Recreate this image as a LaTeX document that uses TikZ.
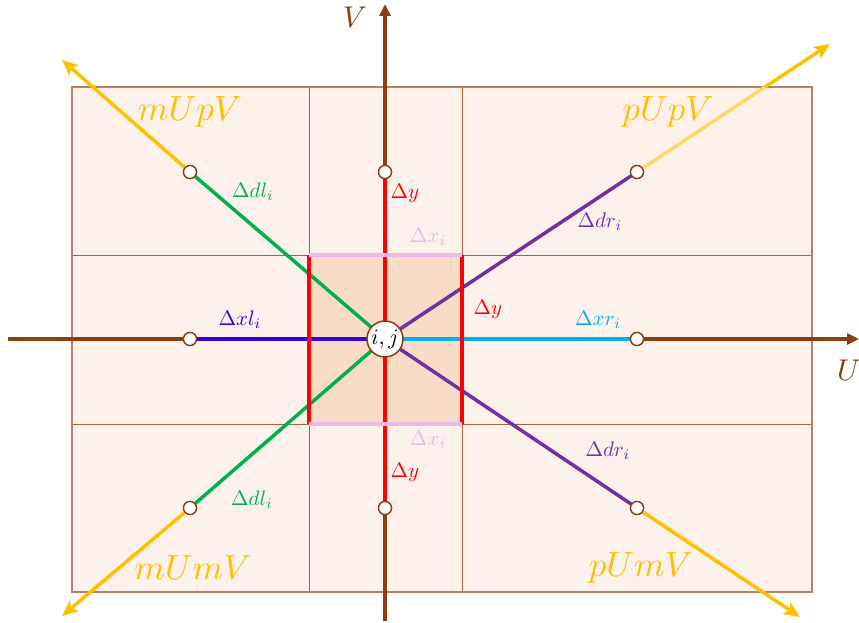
\documentclass[tikz,border=0pt]{standalone}
\usepackage{graphicx}
\usetikzlibrary{arrows.meta,calc}
\definecolor{peach}{HTML}{FDF1EC}
\definecolor{peachd}{HTML}{F9DCC8}
\definecolor{gridb}{HTML}{A8623A}
\definecolor{axisb}{HTML}{8B3E0F}
\definecolor{yel}{HTML}{FFC000}
\definecolor{yell}{HTML}{FFD966}
\definecolor{grn}{HTML}{00B050}
\definecolor{prp}{HTML}{7030A0}
\definecolor{blu}{HTML}{3300E0}
\definecolor{lblu}{HTML}{00B0F0}
\definecolor{pnk}{HTML}{F0B8E8}
\newcommand{\lb}[1]{\scalebox{2.1}{$#1$}}
\newcommand{\bg}[1]{\scalebox{3.5}{$#1$}}
\tikzset{
  gridline/.style={draw=gridb, line width=1pt},
  axisline/.style={draw=axisb, line width=3.5pt, -{Triangle[length=12pt,width=11pt]}},
  seg/.style={line width=3.5pt},
  yarrow/.style={draw=yel, line width=3.5pt, -{Stealth[length=16pt,width=14pt,inset=4pt]}},
  pt/.style={circle, draw=axisb, fill=white, line width=1.3pt, minimum size=13pt, inner sep=0pt},
  lbl/.style={inner sep=0pt},
  big/.style={text=yel, inner sep=0pt},
  axlbl/.style={text=axisb, inner sep=0pt},
}
\begin{document}
\begin{tikzpicture}[x=1pt,y=-1pt]
\useasboundingbox (0,0) rectangle (859,623);
% grid
\fill[peach] (72,87) rectangle (812,592);
\fill[peachd] (309,255) rectangle (462,424);
\draw[gridline] (309,87) -- (309,592) (462,87) -- (462,592) (72,255) -- (812,255) (72,424) -- (812,424);
\draw[draw=gridb!80, line width=1.5pt] (72,87) rectangle (812,592);
% coordinates
\coordinate (C) at (385,339);
\coordinate (axL) at (8,339);
\coordinate (axR) at (859,339);
\coordinate (axB) at (385,621);
\coordinate (axT) at (385,4);
\coordinate (tlA) at (62,60);
\coordinate (blA) at (62,616);
\coordinate (trA) at (830,44);
\coordinate (trE) at (765,87);
\coordinate (brA) at (800,617);
% axes
\draw[axisline] (axL) -- (axR);
\draw[axisline] (axB) -- (axT);
% points
\node[pt] (tl) at (190,172) {};
\node[pt] (tm) at (385,172) {};
\node[pt] (tr) at (637,172) {};
\node[pt] (ml) at (190,339) {};
\node[pt] (mr) at (637,339) {};
\node[pt] (bl) at (190,508) {};
\node[pt] (bm) at (385,508) {};
\node[pt] (br) at (637,508) {};
% yellow arrows
\draw[yarrow] (tl.center) -- (tlA);
\draw[yarrow] (bl.center) -- (blA);
\draw[yarrow] (trE) -- (trA);
\draw[draw=yell, seg] (tr.center) -- (trE);
\draw[yarrow] (br.center) -- (brA);
% colored segments
\draw[grn, seg] (tl.center) -- (C);
\draw[grn, seg] (bl.center) -- (C);
\draw[prp, seg] (tr.center) -- (C);
\draw[prp, seg] (br.center) -- (C);
\draw[blu, seg] (ml.center) -- (C);
\draw[lblu, seg] (mr.center) -- (C);
\draw[red, seg] (tm.center) -- (bm.center);
\draw[red, seg] (309,255) -- (309,424);
\draw[red, seg] (462,255) -- (462,424);
\draw[pnk, seg] (309,255) -- (462,255);
\draw[pnk, seg] (309,424) -- (462,424);
% points on top
\foreach \x/\y in {190/172, 385/172, 637/172, 190/339, 637/339, 190/508, 385/508, 637/508}
  \node[pt] at (\x,\y) {};
\node[circle, draw=axisb, fill=white, line width=1.5pt, minimum size=36pt, inner sep=0pt] (ij) at (C) {\scalebox{2.2}{$i,j$}};
% labels
\node[lbl, text=grn] (l1) at (253,192) {\lb{\Delta dl_i}};
\node[lbl, text=red] (l2) at (405,193) {\lb{\Delta y}};
\node[lbl, text=pnk] (l3) at (428,237) {\lb{\Delta x_i}};
\node[lbl, text=prp] (l4) at (600,222) {\lb{\Delta dr_i}};
\node[lbl, text=blu] (l5) at (240,320) {\lb{\Delta xl_i}};
\node[lbl, text=red] (l6) at (488,309) {\lb{\Delta y}};
\node[lbl, text=lblu] (l7) at (598,320) {\lb{\Delta xr_i}};
\node[lbl, text=pnk] (l8) at (428,440) {\lb{\Delta x_i}};
\node[lbl, text=red] (l9) at (405,472) {\lb{\Delta y}};
\node[lbl, text=prp] (l10) at (608,451) {\lb{\Delta dr_i}};
\node[lbl, text=grn] (l11) at (252,500) {\lb{\Delta dl_i}};
\node[big] (q1) at (190,112) {\bg{mUpV}};
\node[big] (q2) at (668,112) {\bg{pUpV}};
\node[big] (q3) at (193,568) {\bg{mUmV}};
\node[big] (q4) at (641,568) {\bg{pUmV}};
\node[axlbl] (V) at (355,17) {\scalebox{3.0}{$V$}};
\node[axlbl] (U) at (849,370) {\scalebox{3.0}{$U$}};
\end{tikzpicture}
\end{document}
